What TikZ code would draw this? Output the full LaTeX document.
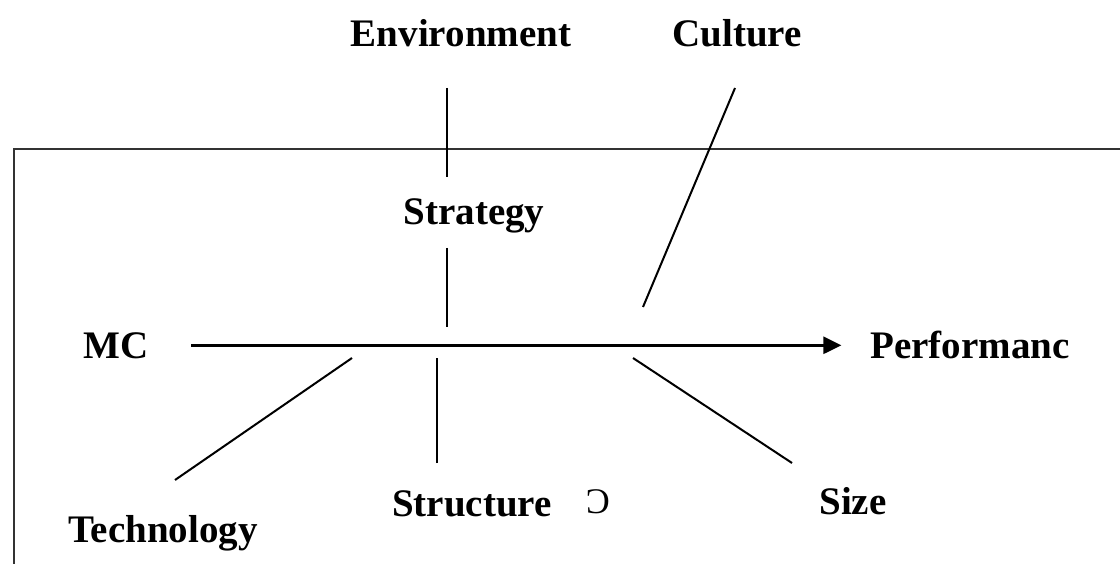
\documentclass[tikz,border=0pt]{standalone}
\usepackage{fontspec}
\setmainfont{Liberation Serif}
\usetikzlibrary{
	arrows.meta,									% 箭头样式
	positioning,									% 节点的摆放
}

\begin{document}
\begin{tikzpicture}[x=1pt, y=-1pt, line width=2pt,
		factor/.style={inner sep=0pt, anchor=base, font=\fontsize{39}{44}\selectfont\bfseries}]
	\useasboundingbox (0,0) rectangle (1120,564);
	\clip (0,0) rectangle (1120,564);
	% 外框
	\draw [line width=2.6pt, black!80] (14,580) |- (1140,149);
	% 因素
	\node [factor] (env) at (461,47) {Environment};
	\node [factor] (cult) at (737,47) {Culture};
	\node [factor] (strat) at (474,225) {Strategy};
	\node [factor] (mc) at (116,358) {MC};
	\node [factor] (perf) at (970,358) {Performanc};
	\node [factor] (tech) at (163,542) {Technology};
	\node [factor] (struct) at (472,516) {Structure};
	\node [factor] (size) at (853,514) {Size};
	\node [inner sep=0pt, anchor=base, font=\fontsize{36}{40}\selectfont] (mark) at (598,513) {Ɔ};
	% 线段端点
	\coordinate (env-a) at (447,88);
	\coordinate (env-b) at (447,177);
	\coordinate (strat-a) at (447,248);
	\coordinate (strat-b) at (447,327);
	\coordinate (cult-a) at (735,88);
	\coordinate (cult-b) at (643,307);
	\coordinate (tech-a) at (175,480);
	\coordinate (tech-b) at (352,358);
	\coordinate (struct-a) at (437,463);
	\coordinate (struct-b) at (437,358);
	\coordinate (size-a) at (792,463);
	\coordinate (size-b) at (633,358);
	\draw (env-a) -- (env-b);
	\draw (strat-a) -- (strat-b);
	\draw (cult-a) -- (cult-b);
	\draw (tech-a) -- (tech-b);
	\draw (struct-a) -- (struct-b);
	\draw (size-a) -- (size-b);
	% 主箭头
	\draw [line width=2.8pt, -{Triangle[length=18pt,width=17pt]}, shorten <=42pt, shorten >=28pt] (mc.east) -- (mc.east -| perf.west);
\end{tikzpicture}
\end{document}
